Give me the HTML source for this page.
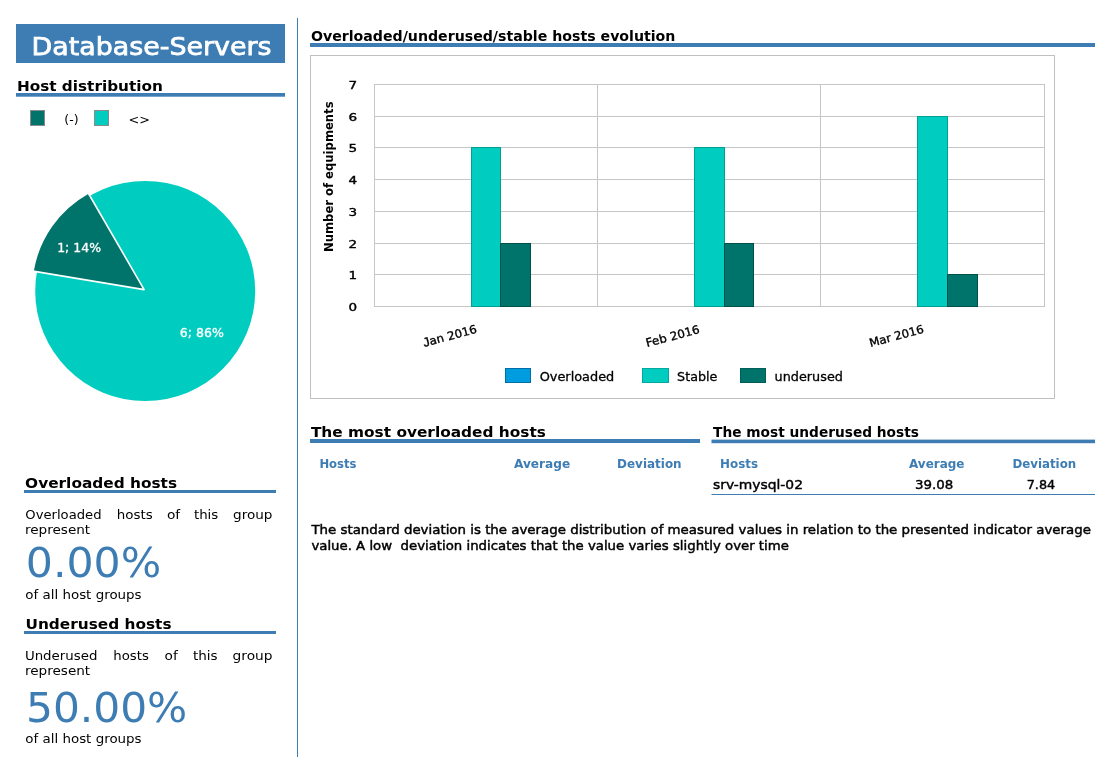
<!DOCTYPE html>
<html><head><meta charset="utf-8"><title>Database-Servers</title>
<style>
html,body{margin:0;padding:0;background:#fff;}
body{width:1110px;height:772px;position:relative;overflow:hidden;font-family:"DejaVu Sans","Liberation Sans",sans-serif;color:#000;}
svg{position:absolute;left:0;top:0;}
</style></head><body>
<svg width="1110" height="772" font-family="'DejaVu Sans','Liberation Sans',sans-serif">
<!-- title block -->
<rect x="16" y="24" width="269" height="39" fill="#3d7db3"/>
<text x="31.500" y="55" font-size="25" fill="#fff" stroke="#fff" stroke-width="0.750" textLength="240" lengthAdjust="spacingAndGlyphs">Database-Servers</text>
<!-- rules -->
<g fill="#3d7db3">
<rect x="16" y="93" width="269" height="3.700"/>
<rect x="297" y="18" width="1" height="739"/>
<rect x="310" y="43" width="785" height="4"/>
<rect x="310" y="439" width="390" height="4"/>
<rect x="711.500" y="439.600" width="383.500" height="3.600"/>
<rect x="711.500" y="494" width="383.500" height="1"/>
<rect x="24" y="490" width="252" height="3"/>
<rect x="24" y="631" width="252" height="3"/>
</g>
<!-- section headers -->
<g font-size="14" font-weight="bold">
<text x="16.900" y="90.600" textLength="146" lengthAdjust="spacingAndGlyphs">Host distribution</text>
<text x="310.900" y="40.700" textLength="364.500" lengthAdjust="spacingAndGlyphs">Overloaded/underused/stable hosts evolution</text>
<text x="310.900" y="437" textLength="235" lengthAdjust="spacingAndGlyphs">The most overloaded hosts</text>
<text x="713.100" y="437" textLength="205.800" lengthAdjust="spacingAndGlyphs">The most underused hosts</text>
<text x="25.100" y="487.500" textLength="152" lengthAdjust="spacingAndGlyphs">Overloaded hosts</text>
<text x="25.500" y="628.700" textLength="146" lengthAdjust="spacingAndGlyphs">Underused hosts</text>
</g>
<!-- pie legend -->
<rect x="30.500" y="110.500" width="14" height="15" fill="#00736a" stroke="#8a8a8a"/>
<rect x="94.500" y="110.500" width="14" height="15" fill="#00cdbf" stroke="#8a8a8a"/>
<text x="64.300" y="123.600" font-size="11.500" textLength="14.200" lengthAdjust="spacingAndGlyphs">(-)</text>
<text x="128.500" y="123.600" font-size="11.500" textLength="21.500" lengthAdjust="spacingAndGlyphs">&lt;&gt;</text>
<!-- pie -->
<circle cx="145.200" cy="291" r="110" fill="#00cdbf"/>
<path d="M144.100,289.600 L33,271.100 A110.500,110.500 0 0 1 88.200,193 Z" fill="#00736a" stroke="#fff" stroke-width="1.600" stroke-linejoin="round"/>
<g font-size="12" fill="#fff" stroke="#fff" stroke-width="0.300">
<text x="57.200" y="251.600" textLength="43.800" lengthAdjust="spacingAndGlyphs">1; 14%</text>
<text x="179.800" y="336.600" textLength="44" lengthAdjust="spacingAndGlyphs">6; 86%</text>
</g>
<!-- chart box -->
<rect x="310.500" y="55.500" width="744" height="343" fill="#fff" stroke="#c0c0c0"/>
<g stroke="#c6c6c6" stroke-width="1" fill="none">
<path d="M374,84.500H1045M374,116.500H1045M374,147.500H1045M374,179.500H1045M374,211.500H1045M374,243.500H1045M374,274.500H1045M374,306.500H1045"/>
<path d="M374.500,84V307M597.500,84V307M820.500,84V307M1044.500,84V307"/>
</g>
<g font-size="11" stroke="#000" stroke-width="0.400">
<text x="348.400" y="88.6" textLength="8.600" lengthAdjust="spacingAndGlyphs">7</text><text x="348.400" y="120.6" textLength="8.600" lengthAdjust="spacingAndGlyphs">6</text><text x="348.400" y="151.6" textLength="8.600" lengthAdjust="spacingAndGlyphs">5</text><text x="348.400" y="183.6" textLength="8.600" lengthAdjust="spacingAndGlyphs">4</text><text x="348.400" y="215.6" textLength="8.600" lengthAdjust="spacingAndGlyphs">3</text><text x="348.400" y="247.6" textLength="8.600" lengthAdjust="spacingAndGlyphs">2</text><text x="348.400" y="278.6" textLength="8.600" lengthAdjust="spacingAndGlyphs">1</text><text x="348.400" y="310.6" textLength="8.600" lengthAdjust="spacingAndGlyphs">0</text>
</g>
<text transform="translate(333.200,252) rotate(-90)" font-size="11.500" font-weight="bold" textLength="150.600" lengthAdjust="spacingAndGlyphs">Number of equipments</text>
<g stroke-width="1">
<rect x="471.500" y="147.500" width="29" height="159" fill="#00cdbf" stroke="#00a094"/>
<rect x="500.500" y="243.500" width="30" height="63" fill="#00736a" stroke="#00504a"/>
<rect x="694.500" y="147.500" width="30" height="159" fill="#00cdbf" stroke="#00a094"/>
<rect x="724.500" y="243.500" width="29" height="63" fill="#00736a" stroke="#00504a"/>
<rect x="917.500" y="116.500" width="30" height="190" fill="#00cdbf" stroke="#00a094"/>
<rect x="947.500" y="274.500" width="30" height="32" fill="#00736a" stroke="#00504a"/>
</g>
<g font-size="11.500" stroke="#000" stroke-width="0.350">
<text transform="translate(424.300,346.900) rotate(-15)" textLength="55.200" lengthAdjust="spacingAndGlyphs"><tspan font-family="'Liberation Sans',sans-serif" font-size="12.500">J</tspan>an 2016</text>
<text transform="translate(647.100,347.100) rotate(-15)" textLength="55.200" lengthAdjust="spacingAndGlyphs">Feb 2016</text>
<text transform="translate(870.400,347.100) rotate(-15)" textLength="56" lengthAdjust="spacingAndGlyphs">Mar 2016</text>
</g>
<rect x="505.500" y="368.500" width="25" height="14" fill="#009ce0" stroke="#006fa3"/>
<rect x="642.500" y="368.500" width="26" height="14" fill="#00cdbf" stroke="#00a99d"/>
<rect x="740.500" y="368.500" width="25" height="14" fill="#00736a" stroke="#005f57"/>
<g font-size="12.500" stroke="#000" stroke-width="0.300">
<text x="539.700" y="380.700" textLength="74.600" lengthAdjust="spacingAndGlyphs">Overloaded</text>
<text x="677.100" y="380.700" textLength="40.200" lengthAdjust="spacingAndGlyphs">Stable</text>
<text x="774.600" y="380.700" textLength="68.300" lengthAdjust="spacingAndGlyphs">underused</text>
</g>
<!-- tables -->
<g font-size="12.500" font-weight="bold" fill="#3d7db3">
<text x="319.400" y="467.900" textLength="37.100" lengthAdjust="spacingAndGlyphs">Hosts</text>
<text x="514" y="467.900" textLength="56.200" lengthAdjust="spacingAndGlyphs">Average</text>
<text x="617.100" y="467.900" textLength="64.500" lengthAdjust="spacingAndGlyphs">Deviation</text>
<text x="720.100" y="468.400" textLength="37.900" lengthAdjust="spacingAndGlyphs">Hosts</text>
<text x="909" y="468.400" textLength="55.500" lengthAdjust="spacingAndGlyphs">Average</text>
<text x="1012.400" y="468.400" textLength="63.800" lengthAdjust="spacingAndGlyphs">Deviation</text>
</g>
<g font-size="13" stroke="#000" stroke-width="0.420">
<text x="713" y="489.300" textLength="90" lengthAdjust="spacingAndGlyphs">srv-mysql-02</text>
<text x="915" y="489.300" textLength="38.300" lengthAdjust="spacingAndGlyphs">39.08</text>
<text x="1026.700" y="489.300" textLength="28.500" lengthAdjust="spacingAndGlyphs">7.84</text>
</g>
<g font-size="13" stroke="#000" stroke-width="0.450">
<text x="311.400" y="533.700" textLength="779.500" lengthAdjust="spacingAndGlyphs">The standard deviation is the average distribution of measured values in relation to the presented indicator average</text>
<text x="311.400" y="550" textLength="477.500" lengthAdjust="spacingAndGlyphs" xml:space="preserve">value. A low  deviation indicates that the value varies slightly over time</text>
</g>
<!-- big numbers -->
<g font-size="40.500" fill="#3d7db3">
<text x="25.800" y="577.100" textLength="135.500" lengthAdjust="spacingAndGlyphs">0.00%</text>
<text x="26" y="722.400" textLength="161.300" lengthAdjust="spacingAndGlyphs">50.00%</text>
</g>
<g font-size="13">
<text x="25.300" y="518.900" textLength="76.200" lengthAdjust="spacingAndGlyphs">Overloaded</text>
<text x="116.700" y="518.900" textLength="36" lengthAdjust="spacingAndGlyphs">hosts</text>
<text x="166.900" y="518.900" textLength="13.200" lengthAdjust="spacingAndGlyphs">of</text>
<text x="193.900" y="518.900" textLength="24.400" lengthAdjust="spacingAndGlyphs">this</text>
<text x="233.100" y="518.900" textLength="39.400" lengthAdjust="spacingAndGlyphs">group</text>
<text x="25" y="533.600" textLength="65.200" lengthAdjust="spacingAndGlyphs">represent</text>
<text x="25.300" y="598.500" textLength="116.300" lengthAdjust="spacingAndGlyphs">of all host groups</text>
<text x="24.900" y="659.900" textLength="72.500" lengthAdjust="spacingAndGlyphs">Underused</text>
<text x="113.300" y="659.900" textLength="35.600" lengthAdjust="spacingAndGlyphs">hosts</text>
<text x="164.500" y="659.900" textLength="13.200" lengthAdjust="spacingAndGlyphs">of</text>
<text x="192.900" y="659.900" textLength="24.700" lengthAdjust="spacingAndGlyphs">this</text>
<text x="232.600" y="659.900" textLength="39.900" lengthAdjust="spacingAndGlyphs">group</text>
<text x="25" y="674.500" textLength="65.200" lengthAdjust="spacingAndGlyphs">represent</text>
<text x="25.300" y="742.600" textLength="116.300" lengthAdjust="spacingAndGlyphs">of all host groups</text>
</g>
</svg>

</body></html>
